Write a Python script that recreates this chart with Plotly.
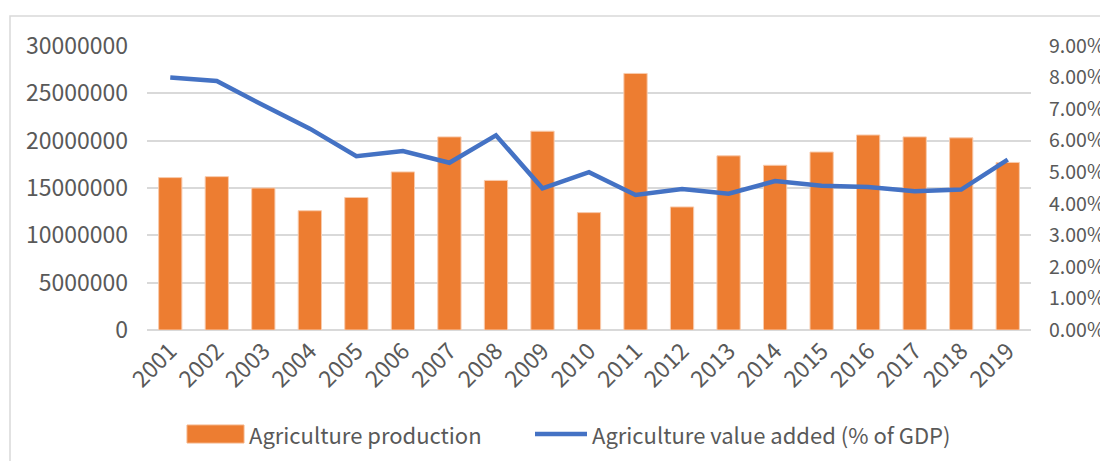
import plotly.graph_objects as go

years = [str(y) for y in range(2001, 2020)]
production = [16100000, 16200000, 15000000, 12600000, 14000000, 16700000, 20400000,
              15800000, 21000000, 12400000, 27100000, 13000000, 18400000, 17400000,
              18800000, 20600000, 20400000, 20300000, 17700000]
value_added = [0.0800, 0.0789, 0.0712, 0.0638, 0.0551, 0.0567, 0.0530, 0.0617,
               0.0449, 0.0500, 0.0428, 0.0447, 0.0432, 0.0472, 0.0457, 0.0453,
               0.0440, 0.0445, 0.0540]
left_ticks = [0, 5000000, 10000000, 15000000, 20000000, 25000000, 30000000]
right_ticks = [i / 100 for i in range(0, 10)]

# page body has an 8px margin, so the figure is laid out in shifted coordinates
OFF = 8
W, H = 1108 - OFF, 461 - OFF
PL, PR, PT, PB = 147 - OFF, 1031 - OFF, 46 - OFF, 330 - OFF
FONT = "Noto Sans CJK SC"
GREY = "#595959"
ORANGE = "#ED7D31"
BLUE = "#4472C4"
GRID = "#D9D9D9"


def px(x):
    return (x - OFF - PL) / (PR - PL)


def py(y):
    return (PB - (y - OFF)) / (PB - PT)


fig = go.Figure()
fig.add_trace(go.Bar(
    x=years, y=production, name="Agriculture production",
    marker=dict(color=ORANGE, line=dict(color="#F8CBAD", width=1)),
    width=0.5, yaxis="y"))
fig.add_trace(go.Scatter(
    x=years, y=value_added, name="Agriculture value added (% of GDP)",
    mode="lines", line=dict(color=BLUE, width=4.5), yaxis="y2"))

fig.update_layout(
    width=W, height=H,
    margin=dict(l=PL, r=W - PR, t=PT, b=H - PB, autoexpand=False),
    paper_bgcolor="white", plot_bgcolor="white",
    showlegend=False,
    font=dict(family=FONT, size=23, color=GREY),
    xaxis=dict(type="category", tickangle=-45, showgrid=False, showline=False,
               ticks="", tickfont=dict(size=23, color=GREY), ticklabelstandoff=2,
               automargin=False),
    yaxis=dict(range=[0, 30000000], tickvals=left_ticks,
               ticktext=[str(v) for v in left_ticks],
               showgrid=True, gridcolor=GRID, gridwidth=1.5, zeroline=True,
               zerolinecolor=GRID, zerolinewidth=1.5, ticks="",
               ticklabelstandoff=18, tickfont=dict(size=23, color=GREY),
               automargin=False),
    yaxis2=dict(range=[0, 0.09], tickvals=right_ticks, tickformat=".2%",
                overlaying="y", side="right", showgrid=False, zeroline=False,
                ticks="", ticklabelstandoff=17, tickfont=dict(size=19.5, color=GREY),
                automargin=False),
    bargap=0.5,
)

# chart border
fig.add_shape(type="rect", xref="paper", yref="paper",
              x0=px(10), x1=px(1130), y0=py(490), y1=py(16),
              line=dict(color=GRID, width=1.5), layer="below")

# custom legend
fig.add_shape(type="rect", xref="paper", yref="paper",
              x0=px(187), x1=px(244), y0=py(443), y1=py(425),
              line=dict(color="#F4B183", width=1), fillcolor=ORANGE)
fig.add_annotation(xref="paper", yref="paper", x=px(247), y=py(434),
                   text="Agriculture production", showarrow=False,
                   xanchor="left", yanchor="middle",
                   font=dict(family=FONT, size=22, color=GREY))
fig.add_shape(type="line", xref="paper", yref="paper",
              x0=px(535), x1=px(587), y0=py(434), y1=py(434),
              line=dict(color=BLUE, width=4.5))
fig.add_annotation(xref="paper", yref="paper", x=px(590), y=py(434),
                   text="Agriculture value added (% of GDP)", showarrow=False,
                   xanchor="left", yanchor="middle",
                   font=dict(family=FONT, size=22, color=GREY))

fig.write_html("out.html")
